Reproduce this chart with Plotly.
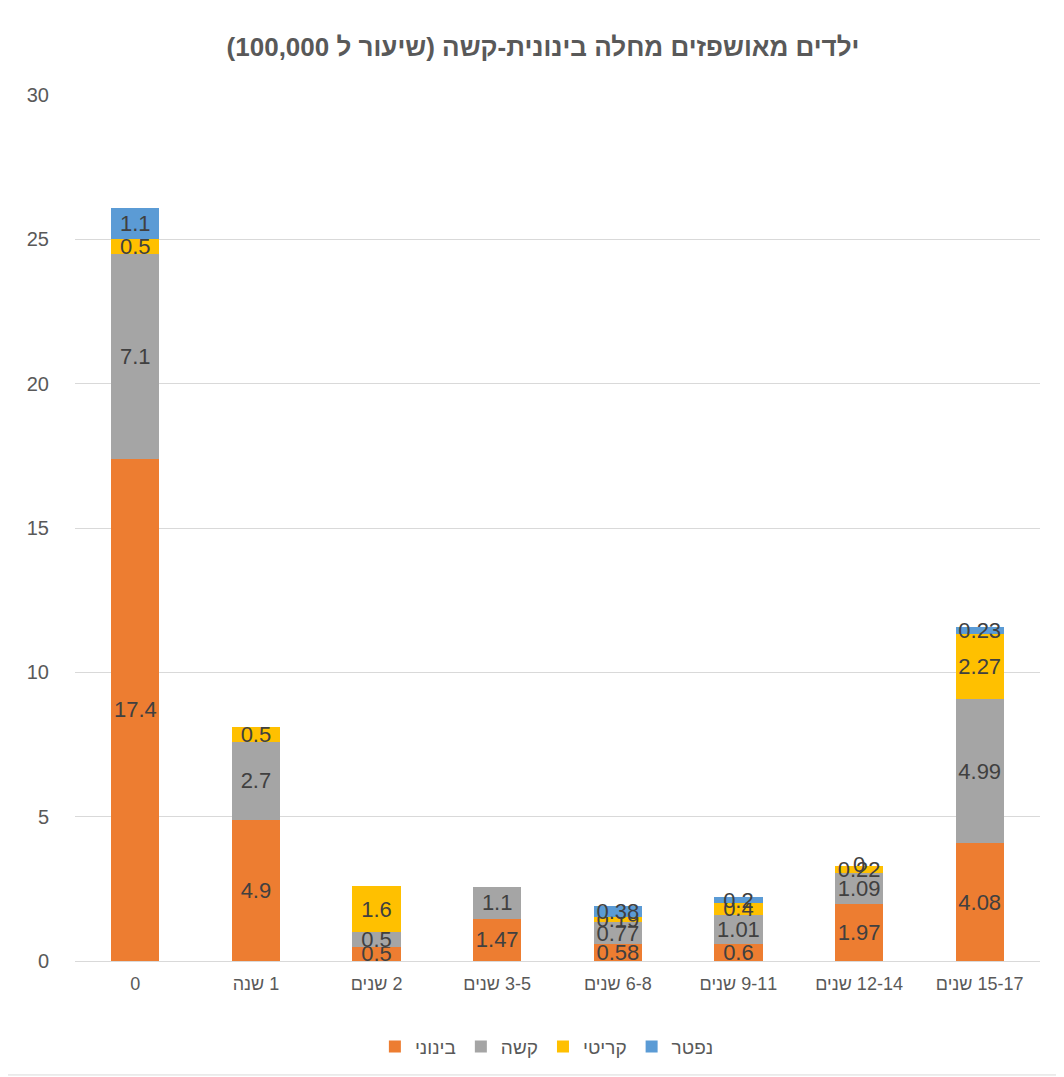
import plotly.graph_objects as go

categories = ["0", "1 שנה", "2 שנים", "3-5 שנים", "6-8 שנים", "9-11 שנים", "12-14 שנים", "15-17 שנים"]
moderate = [17.4, 4.9, 0.5, 1.47, 0.58, 0.6, 1.97, 4.08]
severe = [7.1, 2.7, 0.5, 1.1, 0.77, 1.01, 1.09, 4.99]
critical = [0.5, 0.5, 1.6, None, 0.19, 0.4, 0.22, 2.27]
deceased = [1.1, None, None, None, 0.38, 0.2, 0, 0.23]

series = [
    ("בינוני", moderate, "#ED7D31"),
    ("קשה", severe, "#A5A5A5"),
    ("קריטי", critical, "#FFC000"),
    ("נפטר", deceased, "#5B9BD5"),
]

FONT = "Liberation Sans, Arial, sans-serif"
RLE, PDF = "\u202b", "\u202c"

# right-to-left embedding, as the labels are laid out in the reference
tick_text = [RLE + c + PDF for c in categories]

fig = go.Figure()
running = [0.0] * len(categories)
zero_x, zero_y, zero_t = [], [], []
for name, vals, color in series:
    texts = ["" if v is None else f"{v:g}" for v in vals]
    fig.add_trace(go.Bar(
        name=name, x=categories, y=vals, marker=dict(color=color, line=dict(width=0)),
        text=texts, textposition="inside", insidetextanchor="middle", textangle=0,
        constraintext="none", cliponaxis=False,
        textfont=dict(size=22, color="#404040", family=FONT),
        hoverinfo="x+y+name",
    ))
    for i, v in enumerate(vals):
        if v is None:
            continue
        running[i] += v
        if v == 0:
            zero_x.append(categories[i])
            zero_y.append(running[i])
            zero_t.append(f"{v:g}")

# labels for zero-height segments (bars cannot show inside text there)
fig.add_trace(go.Scatter(
    x=zero_x, y=zero_y, text=zero_t, mode="text", textposition="middle center",
    textfont=dict(size=22, color="#404040", family=FONT),
    showlegend=False, hoverinfo="skip", cliponaxis=False,
))

fig.update_layout(
    barmode="stack", bargap=0.6,
    width=1064, height=1077,
    margin=dict(l=67, r=32, t=87, b=124),
    paper_bgcolor="white", plot_bgcolor="white",
    font=dict(family=FONT, color="#595959"),
    title=dict(text=RLE + "ילדים מאושפזים מחלה בינונית-קשה (שיעור ל 100,000)" + PDF,
               x=0.485, xref="paper", xanchor="center", y=0.964, yanchor="middle",
               font=dict(size=26, color="#595959", family=FONT, weight="bold")),
    legend=dict(orientation="h", x=0.489, xanchor="center", y=-0.099, yanchor="middle",
                font=dict(size=19, color="#595959", family=FONT), traceorder="normal"),
    yaxis=dict(range=[0, 30], dtick=5, showgrid=True, gridcolor="#D9D9D9", gridwidth=1,
               zeroline=True, zerolinecolor="#D9D9D9", zerolinewidth=1,
               tickfont=dict(size=20, color="#595959"), ticks="", ticklen=0,
               ticklabelstandoff=25),
    xaxis=dict(tickmode="array", tickvals=categories, ticktext=tick_text,
               tickfont=dict(size=18, color="#595959"), showline=True, linecolor="#D9D9D9",
               ticks="", ticklabelstandoff=6),
    shapes=[
        dict(type="line", xref="paper", yref="paper", x0=1.0228, x1=1.0228, y0=-0.1316, y1=1.11,
             line=dict(color="#D9D9D9", width=1)),
        dict(type="line", xref="paper", yref="paper", x0=-0.08, x1=1.0228, y0=-0.1316, y1=-0.1316,
             line=dict(color="#D9D9D9", width=1)),
    ],
)

fig.write_html("out.html")
